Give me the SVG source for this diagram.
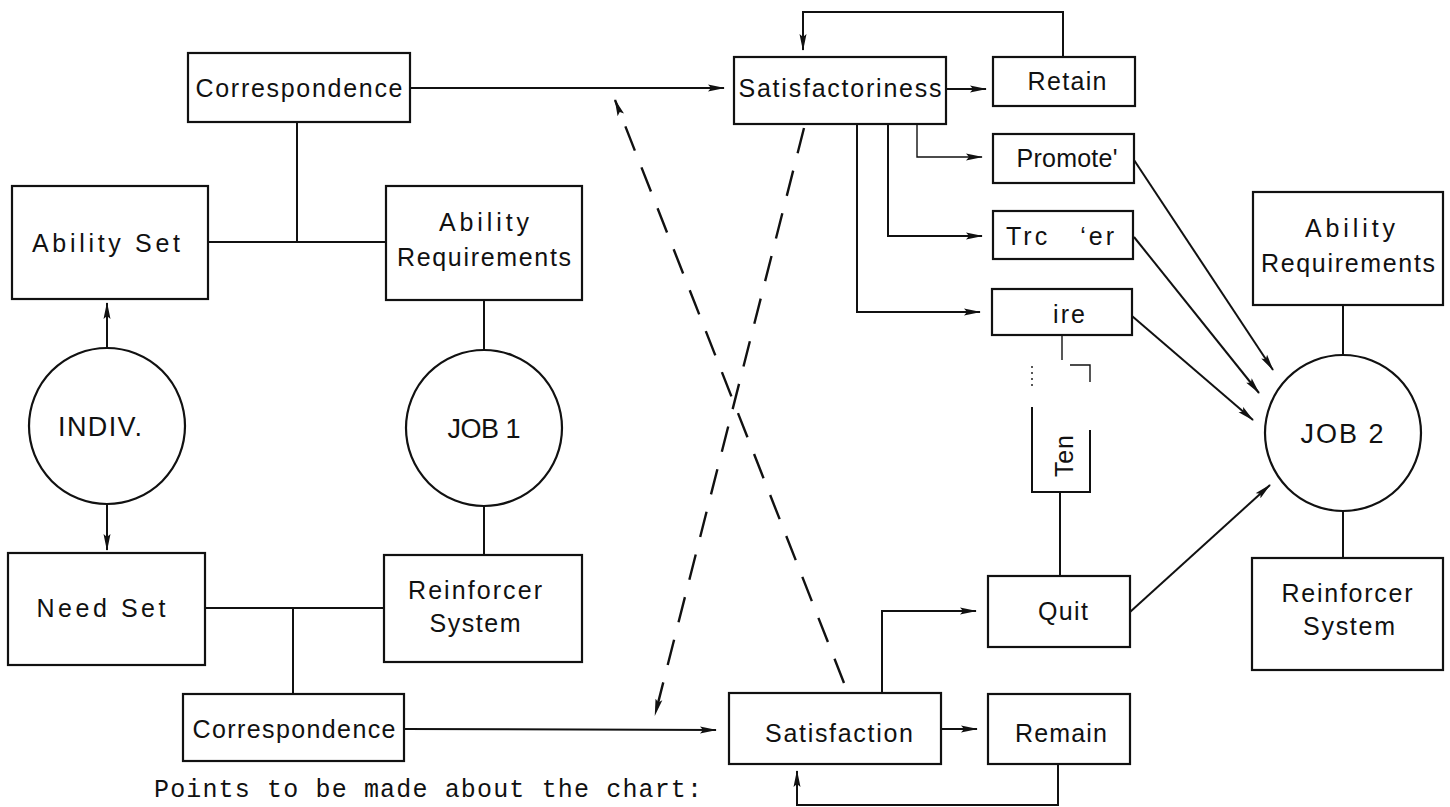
<svg xmlns="http://www.w3.org/2000/svg" width="1450" height="807" viewBox="0 0 1450 807">
<defs>
<style>
.box{fill:#fff;stroke:#111;stroke-width:2.2}
.ln{fill:none;stroke:#111;stroke-width:2}
.thin{fill:none;stroke:#111;stroke-width:1.4}
.dash{fill:none;stroke:#111;stroke-width:2.4;stroke-dasharray:26 18}
.arr{marker-end:url(#ah)}
text{font-family:"Liberation Sans","DejaVu Sans",Arial,sans-serif;font-size:25px;fill:#111;text-anchor:middle}
.big{font-size:27px}
.mono{font-family:"Liberation Mono","Courier New",monospace;font-size:25px;text-anchor:start}
</style>
<marker id="ah" markerWidth="17" markerHeight="8" refX="16" refY="4" orient="auto" markerUnits="userSpaceOnUse">
<path d="M0,0.5 L17,4 L0,7.5 L3,4 z" fill="#111"/>
</marker>
</defs>
<rect width="1450" height="807" fill="#fff"/>

<g id="connectors">
<line class="ln arr" x1="107" y1="348" x2="107" y2="303"/>
<line class="ln arr" x1="107" y1="504" x2="107" y2="550"/>
<line class="ln" x1="208" y1="242" x2="386" y2="242"/>
<line class="ln" x1="297" y1="122" x2="297" y2="242"/>
<line class="ln" x1="484" y1="300" x2="484" y2="350"/>
<line class="ln" x1="484" y1="506" x2="484" y2="555"/>
<line class="ln" x1="205" y1="608" x2="385" y2="608"/>
<line class="ln" x1="293" y1="608" x2="293" y2="694"/>
<line class="ln arr" x1="410" y1="88" x2="724" y2="88"/>
<line class="ln arr" x1="404" y1="729" x2="716" y2="730"/>
<line class="ln arr" x1="946" y1="89" x2="986" y2="89"/>
<polyline class="ln arr" points="1063,57 1063,12 803,12 803,50"/>
<polyline class="thin arr" points="917,124 917,157 982,157"/>
<polyline class="ln arr" points="888,124 888,236 982,236"/>
<polyline class="ln arr" points="857,124 857,312 980,312"/>
<line class="thin" x1="1062" y1="335" x2="1062" y2="360"/>
<line class="ln" x1="1060" y1="492" x2="1060" y2="576"/>
<line class="ln arr" x1="1134" y1="160" x2="1273" y2="370"/>
<line class="ln arr" x1="1134" y1="237" x2="1259" y2="393"/>
<line class="ln arr" x1="1132" y1="316" x2="1253" y2="420"/>
<line class="ln arr" x1="1130" y1="612" x2="1270" y2="485"/>
<line class="ln" x1="1343" y1="305" x2="1343" y2="355"/>
<line class="ln" x1="1343" y1="511" x2="1343" y2="558"/>
<polyline class="ln arr" points="882,693 882,611 976,611"/>
<line class="ln arr" x1="941" y1="729" x2="977" y2="729"/>
<polyline class="ln arr" points="1058,764 1058,805 797,805 797,771"/>
<line class="dash arr" x1="844" y1="683" x2="615" y2="100"/>
<line class="dash arr" x1="804" y1="128" x2="655" y2="715"/>
</g>

<g id="correspondence-top">
<rect class="box" x="188" y="53" width="222" height="69"/>
<text x="299" y="97" textLength="207" lengthAdjust="spacing">Correspondence</text>
</g>
<g id="ability-set">
<rect class="box" x="12" y="186" width="196" height="113"/>
<text x="106" y="252" textLength="148" lengthAdjust="spacing">Ability Set</text>
</g>
<g id="ability-requirements-1">
<rect class="box" x="386" y="186" width="196" height="114"/>
<text x="484" y="231" textLength="90" lengthAdjust="spacing">Ability</text>
<text x="484" y="266" textLength="174" lengthAdjust="spacing">Requirements</text>
</g>
<g id="indiv">
<ellipse class="box" cx="107" cy="426" rx="78" ry="78"/>
<text class="big" x="100" y="436" textLength="84" lengthAdjust="spacing">INDIV.</text>
</g>
<g id="job1">
<ellipse class="box" cx="484" cy="428" rx="78" ry="78"/>
<text class="big" x="484" y="438" textLength="73" lengthAdjust="spacing">JOB 1</text>
</g>
<g id="need-set">
<rect class="box" x="8" y="553" width="197" height="112"/>
<text x="101" y="617" textLength="129" lengthAdjust="spacing">Need Set</text>
</g>
<g id="reinforcer-system-1">
<rect class="box" x="384" y="555" width="198" height="107"/>
<text x="475" y="599" textLength="134" lengthAdjust="spacing">Reinforcer</text>
<text x="475" y="632" textLength="91" lengthAdjust="spacing">System</text>
</g>
<g id="correspondence-bottom">
<rect class="box" x="183" y="694" width="221" height="67"/>
<text x="294" y="738" textLength="203" lengthAdjust="spacing">Correspondence</text>
</g>
<g id="satisfactoriness">
<rect class="box" x="734" y="57" width="212" height="67"/>
<text x="840" y="97" textLength="203" lengthAdjust="spacing">Satisfactoriness</text>
</g>
<g id="retain">
<rect class="box" x="993" y="57" width="142" height="49"/>
<text x="1067" y="90" textLength="79" lengthAdjust="spacing">Retain</text>
</g>
<g id="promote">
<rect class="box" x="993" y="134" width="141" height="49"/>
<text x="1067" y="167" textLength="101" lengthAdjust="spacing">Promote'</text>
</g>
<g id="transfer">
<rect class="box" x="993" y="211" width="140" height="48"/>
<text x="1060" y="245" textLength="108" lengthAdjust="spacing" xml:space="preserve">Trc   ‘er</text>
</g>
<g id="fire">
<rect class="box" x="992" y="289" width="140" height="46"/>
<text x="1069" y="323" textLength="32" lengthAdjust="spacing">ire</text>
</g>
<g id="ten">
<path class="ln" d="M1032,407 L1032,492 L1090,492 L1090,430"/>
<path class="thin" d="M1070,365 L1090,365 L1090,382"/>
<path class="thin" d="M1032,366 L1032,390" stroke-dasharray="2 4"/>
<text x="0" y="0" transform="translate(1073,456) rotate(-90)" textLength="42" lengthAdjust="spacing">Ten</text>
</g>
<g id="quit">
<rect class="box" x="988" y="576" width="142" height="71"/>
<text x="1063" y="620" textLength="50" lengthAdjust="spacing">Quit</text>
</g>
<g id="satisfaction">
<rect class="box" x="729" y="693" width="212" height="71"/>
<text x="839" y="742" textLength="148" lengthAdjust="spacing">Satisfaction</text>
</g>
<g id="remain">
<rect class="box" x="988" y="694" width="142" height="70"/>
<text x="1061" y="742" textLength="92" lengthAdjust="spacing">Remain</text>
</g>
<g id="ability-requirements-2">
<rect class="box" x="1253" y="192" width="190" height="113"/>
<text x="1350" y="237" textLength="90" lengthAdjust="spacing">Ability</text>
<text x="1348" y="272" textLength="174" lengthAdjust="spacing">Requirements</text>
</g>
<g id="job2">
<ellipse class="box" cx="1343" cy="433" rx="78" ry="78"/>
<text class="big" x="1342" y="443" textLength="83" lengthAdjust="spacing">JOB 2</text>
</g>
<g id="reinforcer-system-2">
<rect class="box" x="1252" y="558" width="191" height="112"/>
<text x="1347" y="602" textLength="131" lengthAdjust="spacing">Reinforcer</text>
<text x="1349" y="635" textLength="92" lengthAdjust="spacing">System</text>
</g>

<text class="mono" x="154" y="797" textLength="548" lengthAdjust="spacing">Points to be made about the chart:</text>
</svg>
